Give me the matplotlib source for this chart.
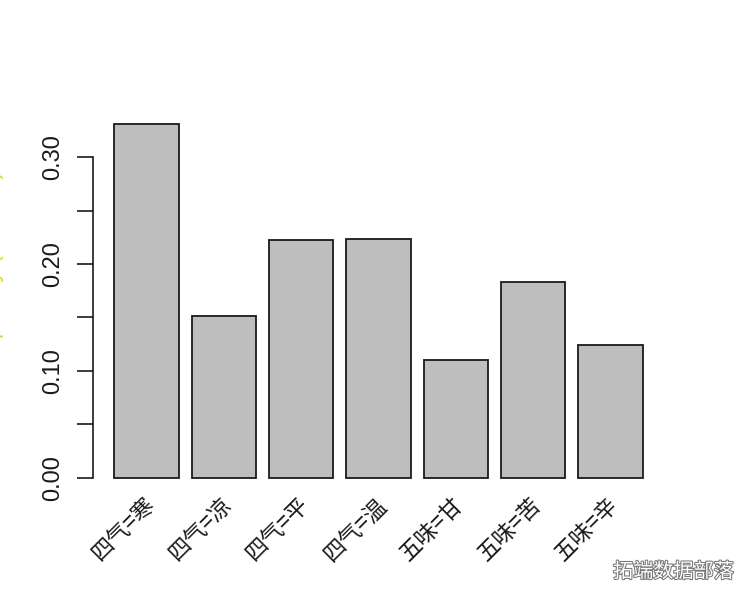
import matplotlib
matplotlib.use("Agg")
import matplotlib.pyplot as plt
import matplotlib.patheffects as pe
import matplotlib.transforms as mtransforms
import numpy as np

categories = ["四气=寒", "四气=凉", "四气=平", "四气=温", "五味=甘", "五味=苦", "五味=辛"]
values = [0.331, 0.151, 0.222, 0.223, 0.110, 0.183, 0.124]
yticks = [0.00, 0.05, 0.10, 0.15, 0.20, 0.25, 0.30]
ytick_labels = ["0.00", "", "0.10", "", "0.20", "", "0.30"]

fig = plt.figure(figsize=(7.56, 6.06), dpi=100)
ax = fig.add_axes([93/756, 1-492/606, (664-93)/756, (492-110)/606])

x = 0.7 + 1.2*np.arange(len(values))
ax.bar(x, values, width=1.0, color="#BEBEBE", edgecolor="#1a1a1a", linewidth=1.3)
ax.set_xlim(-0.128, 8.728)
ax.set_ylim(-0.01324, 0.344)

for s in ["top", "right", "bottom"]:
    ax.spines[s].set_visible(False)
ax.spines["left"].set_bounds(0, 0.30)
ax.spines["left"].set_linewidth(1.2)
ax.spines["left"].set_color("#1a1a1a")

ax.set_yticks(yticks)
ax.set_yticklabels(ytick_labels, rotation=90, va="center", fontsize=17,
                   family=["Liberation Sans", "DejaVu Sans"], color="#1a1a1a")
ax.tick_params(axis="y", length=11.5, width=1.2, pad=9, color="#1a1a1a")

ax.set_xticks(x)
ax.set_xticklabels(categories, rotation=45, ha="right", va="top", rotation_mode="anchor",
                   fontsize=16, family=["Noto Sans CJK SC", "DejaVu Sans"], color="#1a1a1a")
ax.tick_params(axis="x", length=0, pad=1)
offset = mtransforms.ScaledTranslation(-4/100, 0, fig.dpi_scale_trans)
for lab in ax.get_xticklabels():
    lab.set_transform(lab.get_transform() + offset)

fig.text(4/756, 1-298/606, "item frequency (relative)", rotation=90, ha="right", va="center",
         fontsize=17, color="#e6dc00", family=["Liberation Sans", "DejaVu Sans"])

wm = fig.text(613/756, 1-572/606, "拓端数据部落", fontsize=14.5, color="white", ha="left", va="center",
              family=["Noto Sans CJK SC", "DejaVu Sans"])
wm.set_path_effects([pe.Stroke(linewidth=1.5, foreground="#777777"), pe.Normal()])

fig.savefig("out.png", dpi=100)
